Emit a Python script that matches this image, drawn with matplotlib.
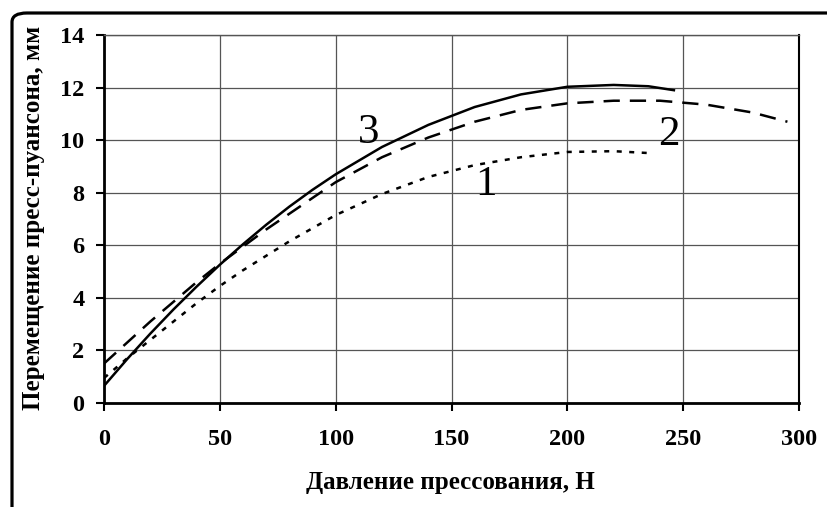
import matplotlib
matplotlib.use("Agg")
import matplotlib.pyplot as plt
from matplotlib.patches import FancyBboxPatch

# Data
x1 = [0, 10, 20, 30, 40, 50, 60, 70, 80, 90, 100, 120, 140, 160, 180, 200, 220, 237]
y1 = [0.95, 1.7, 2.4, 3.1, 3.8, 4.45, 5.05, 5.6, 6.15, 6.65, 7.15, 7.95, 8.6, 9.05, 9.35, 9.55, 9.58, 9.5]

x2 = [0, 10, 20, 30, 40, 50, 60, 70, 80, 90, 100, 120, 140, 160, 180, 200, 220, 240, 260, 280, 295]
y2 = [1.5, 2.3, 3.1, 3.85, 4.6, 5.3, 5.95, 6.6, 7.2, 7.8, 8.4, 9.35, 10.1, 10.7, 11.15, 11.4, 11.5, 11.5, 11.35, 11.05, 10.7]

x3 = [0, 10, 20, 30, 40, 50, 60, 70, 80, 90, 100, 120, 140, 160, 180, 200, 220, 235, 246]
y3 = [0.65, 1.67, 2.64, 3.56, 4.43, 5.26, 6.04, 6.78, 7.47, 8.11, 8.70, 9.74, 10.58, 11.26, 11.74, 12.03, 12.10, 12.05, 11.9]

curve_labels = ["1", "2", "3"]
label_pos = [(165, 8.3), (244, 10.2), (114, 10.3)]

x_ticks = [0, 50, 100, 150, 200, 250, 300]
y_ticks = [0, 2, 4, 6, 8, 10, 12, 14]
xlabel = "Давление прессования, Н"
ylabel = "Перемещение пресс-пуансона, мм"

serif = ["Liberation Serif", "DejaVu Serif"]
plt.rcParams["font.family"] = serif

fig = plt.figure(figsize=(8.27, 5.07), dpi=100)
W, H = 827, 507

# outer rounded frame
frame = FancyBboxPatch((12 / W, -0.2), 1.2, 1 - 13 / H + 0.2,
                       boxstyle="round,pad=0,rounding_size=0.018",
                       transform=fig.transFigure, fill=False,
                       edgecolor="black", linewidth=2.3, clip_on=False)
fig.patches.append(frame)

ax = fig.add_axes([104 / W, 1 - 403 / H, (799 - 104) / W, (403 - 35) / H])
ax.set_xlim(0, 300)
ax.set_ylim(0, 14)

ax.grid(True, color="#555555", linewidth=0.9)
ax.set_axisbelow(True)

ax.plot(x1, y1, color="black", linewidth=1.8, linestyle=(0, (2.0, 3.0)))
ax.plot(x2, y2, color="black", linewidth=1.8, linestyle=(0, (6.5, 4.0)))
ax.plot(x3, y3, color="black", linewidth=1.8, linestyle="-")

for lab, (lx, ly) in zip(curve_labels, label_pos):
    ax.text(lx, ly, lab, fontsize=31, ha="center", va="center", family=serif)

ax.set_xticks(x_ticks)
ax.set_yticks(y_ticks)
ax.tick_params(axis="both", direction="out", length=6, width=1.5, labelsize=17.5)
ax.tick_params(axis="x", pad=13)
ax.tick_params(axis="y", pad=8)
for lbl in ax.get_xticklabels() + ax.get_yticklabels():
    lbl.set_fontweight("bold")

for s in ["left", "bottom"]:
    ax.spines[s].set_linewidth(2.0)
    ax.spines[s].set_color("black")
ax.spines["right"].set_linewidth(1.5)
ax.spines["right"].set_color("black")
ax.spines["top"].set_linewidth(1.0)
ax.spines["top"].set_color("#555555")

fig.text(450 / W, 1 - 483 / H, xlabel, fontsize=18, fontweight="bold",
         ha="center", va="center")
fig.text(34 / W, 1 - 218 / H, ylabel, fontsize=18, fontweight="bold",
         ha="center", va="center", rotation=90)

fig.savefig("out.png", dpi=100)
